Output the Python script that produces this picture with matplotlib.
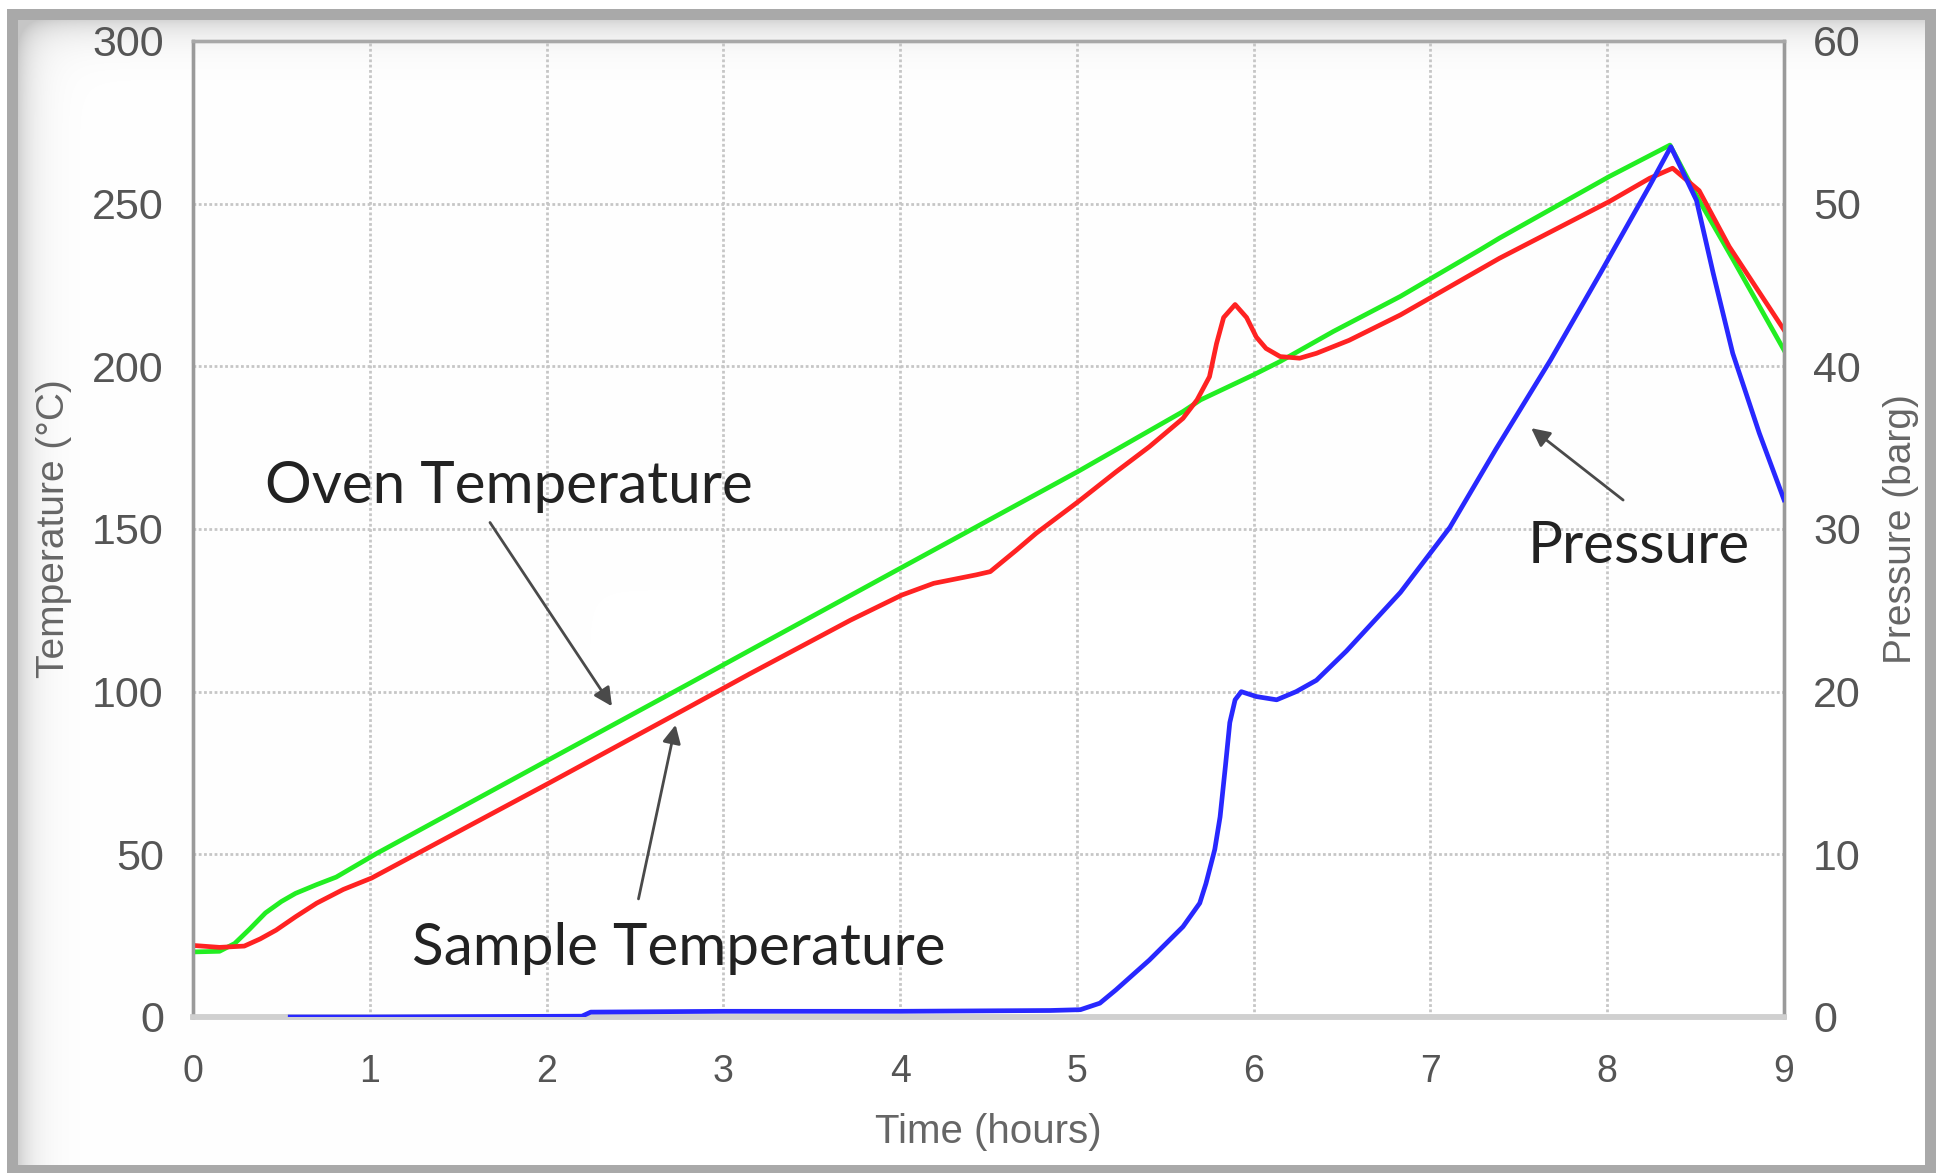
import numpy as np
import matplotlib
matplotlib.use("Agg")
from matplotlib import pyplot as plt

# Sample temperature (red)
sample_t = [0.0, 0.15, 0.29, 0.38, 0.47, 0.58, 0.70, 0.85, 1.01, 2.0, 2.79, 3.15, 3.72, 4.01, 4.19,
            4.43, 4.51, 4.66, 4.77, 5.01, 5.22, 5.41, 5.60, 5.68, 5.75, 5.79, 5.83,
            5.895, 5.96, 6.015, 6.07, 6.15, 6.26, 6.355, 6.54, 6.83, 7.11, 7.39,
            8.01, 8.24, 8.37, 8.52, 8.69, 9.0]
sample_temp = [22.0, 21.4, 21.8, 24.0, 26.7, 30.8, 35.0, 39.2, 42.7, 71.5, 94.8, 105.5, 122.0, 129.7, 133.3,
               135.9, 136.9, 143.6, 148.7, 158.5, 167.5, 175.3, 184.0, 189.7, 196.8, 207.0, 215.0,
               219.0, 215.0, 209.0, 205.5, 203.0, 202.5, 204.0, 208.0, 215.8, 224.5, 233.2,
               250.6, 257.8, 260.9, 254.0, 236.8, 211.2]

# Oven temperature (green)
oven_t = [0.0, 0.15, 0.236, 0.32, 0.41, 0.50, 0.58, 0.70, 0.81, 1.04, 2.0, 2.79, 3.15, 3.72, 4.01,
          4.47, 5.01, 5.60, 5.70, 6.0, 6.15, 6.45, 6.83, 7.28, 7.39, 8.01, 8.355,
          8.52, 8.71, 9.0]
oven_temp = [20.0, 20.2, 22.6, 27.0, 32.0, 35.5, 38.0, 40.7, 43.0, 50.3, 78.7, 102.0, 112.7, 129.6, 138.2,
             151.8, 167.8, 186.1, 189.7, 197.4, 201.5, 210.7, 221.5, 235.8, 239.4, 258.3, 268.0,
             251.0, 233.0, 205.0]

# Pressure (blue, right axis)
press_t = [0.55, 1.0, 2.2, 2.25, 3.0, 4.0, 4.85, 5.02, 5.13, 5.22, 5.41, 5.60, 5.695,
           5.73, 5.78, 5.81, 5.84, 5.865, 5.895, 5.93, 6.015, 6.13, 6.24, 6.355, 6.525,
           6.83, 7.11, 7.37, 7.68, 7.96, 8.24, 8.36, 8.505, 8.60, 8.71, 8.86, 9.0]
press_barg = [0.0, 0.0, 0.05, 0.3, 0.35, 0.35, 0.4, 0.45, 0.85, 1.66, 3.5, 5.55, 7.0,
              8.2, 10.3, 12.3, 15.4, 18.1, 19.5, 20.0, 19.7, 19.5, 20.0, 20.7, 22.5,
              26.1, 30.1, 34.9, 40.4, 45.7, 51.1, 53.5, 50.2, 45.7, 40.8, 35.9, 31.8]

x_ticks = list(range(0, 10))
temp_ticks = [0, 50, 100, 150, 200, 250, 300]
press_ticks = [0, 10, 20, 30, 40, 50, 60]

W, H = 1936, 1173
fig = plt.figure(figsize=(W / 100, H / 100), dpi=100)
fig.patch.set_facecolor("white")

# Gray frame with soft inner shadow
bg = fig.add_axes([0, 0, 1, 1], zorder=-5)
img = np.ones((H, W, 3))
img[9:, 7:] = 0.663
yy, xx = np.mgrid[0:H, 0:W]
shade = 0.16 * np.exp(-(yy - 20) / 16.0) + 0.18 * np.exp(-(xx - 18) / 16.0)
inner = np.clip(1 - shade, 0.78, 1)
img[20:1165, 18:1925] = inner[20:1165, 18:1925, None]
bg.imshow(img, extent=(0, W, H, 0), aspect="auto", interpolation="bilinear")
bg.set_xlim(0, W)
bg.set_ylim(H, 0)
bg.axis("off")

plt.rcParams["font.family"] = ["Liberation Sans", "DejaVu Sans"]

ax = fig.add_axes([193 / W, (H - 1017) / H, (1784 - 193) / W, (1017 - 41) / H])
ax.set_facecolor("none")
ax2 = ax.twinx()

ax.plot(oven_t, oven_temp, color="#22ee22", lw=3.4, zorder=3)
ax.plot(sample_t, sample_temp, color="#ff2222", lw=3.4, zorder=4)
ax2.plot(press_t, press_barg, color="#2828ff", lw=3.4, zorder=5)

ax.set_xlim(0, 9)
ax.set_ylim(0, 300)
ax2.set_ylim(0, 60)
ax.set_xticks(x_ticks)
ax.set_yticks(temp_ticks)
ax2.set_yticks(press_ticks)

ax.grid(True, color="#c6c6c6", linestyle=(0, (1.0, 0.9)), linewidth=2.0)
ax.set_axisbelow(True)

for a in (ax, ax2):
    for s in a.spines.values():
        s.set_color("#9a9a9a")
        s.set_linewidth(2.4)
    a.spines["bottom"].set_color("#d0d0d0")
    a.spines["bottom"].set_linewidth(4.0)
    a.spines["top"].set_color("#a8a8a8")

ax.tick_params(axis="x", length=0, pad=27, labelsize=27, labelcolor="#555555")
ax.tick_params(axis="y", length=0, pad=21, labelsize=31, labelcolor="#555555")
ax2.tick_params(axis="y", length=0, pad=21, labelsize=31, labelcolor="#555555")

ax.set_xlabel("Time (hours)", fontsize=29, color="#666666")
ax.set_ylabel("Temperature (°C)", fontsize=28, color="#666666")
ax2.set_ylabel("Pressure (barg)", fontsize=28, color="#666666")
ax.xaxis.set_label_coords(0.5, -0.098)
ax.yaxis.set_label_coords(-0.076, 0.5)
ax2.yaxis.set_label_coords(1.062, 0.5)

# Annotations
note_font = dict(family=["Lato", "DejaVu Sans"], fontsize=42, color="#222222")
arrow = dict(arrowstyle="-|>,head_length=0.5,head_width=0.25", color="#4a4a4a",
             lw=2.0, mutation_scale=22, shrinkA=0, shrinkB=0)
ax.text(0.41, 158, "Oven Temperature", ha="left", va="baseline", zorder=6, **note_font)
ax.text(1.24, 16, "Sample Temperature", ha="left", va="baseline", zorder=6, **note_font)
ax.text(7.55, 139.5, "Pressure", ha="left", va="baseline", zorder=6, **note_font)
ax.annotate("", xy=(2.37, 95.5), xytext=(1.68, 152), arrowprops=arrow, zorder=6)
ax.annotate("", xy=(2.73, 89.8), xytext=(2.52, 36.3), arrowprops=arrow, zorder=6)
ax.annotate("", xy=(7.57, 181), xytext=(8.09, 158.9), arrowprops=arrow, zorder=6)

fig.savefig("out.png", dpi=100)
